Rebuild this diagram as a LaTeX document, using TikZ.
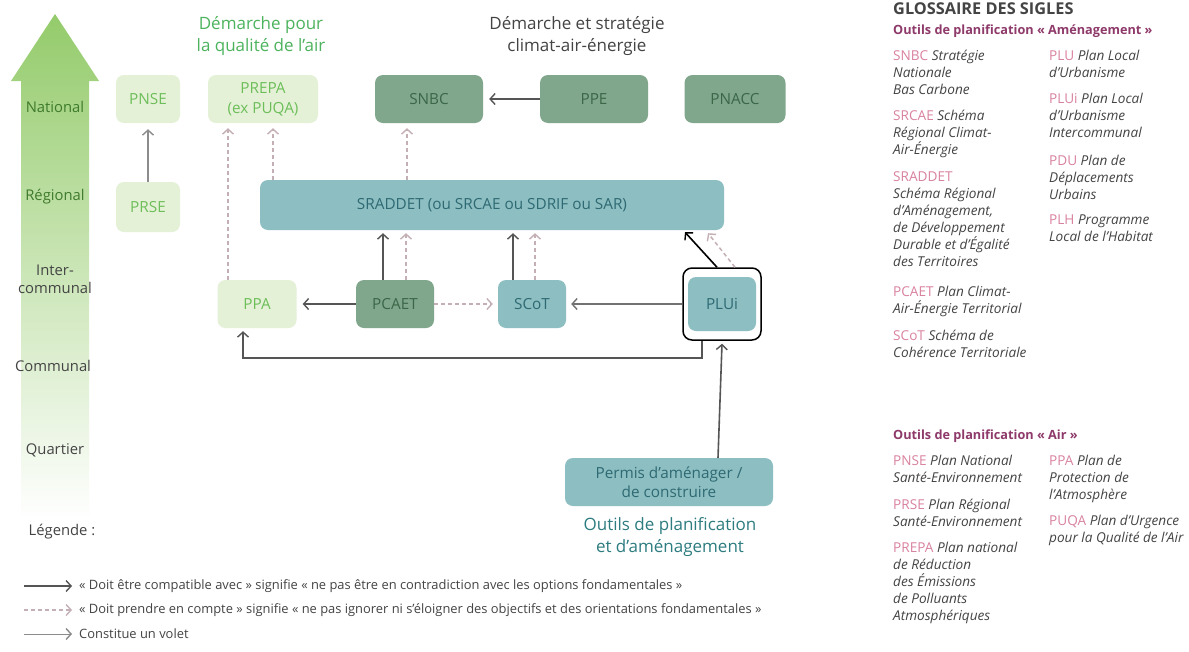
\documentclass[tikz,border=0pt]{standalone}
\usepackage{fontspec}
\setmainfont{Open Sans}
\usetikzlibrary{arrows.meta,calc}
\definecolor{lgfill}{HTML}{E4F1D6}
\definecolor{lgtext}{HTML}{6DBE5A}
\definecolor{dgfill}{HTML}{80A78C}
\definecolor{dgtext}{HTML}{3B6648}
\definecolor{tlfill}{HTML}{8DBEC2}
\definecolor{tltext}{HTML}{2E6A73}
\definecolor{arr}{HTML}{555555}
\definecolor{darr}{HTML}{C4B0B4}
\definecolor{voletc}{HTML}{8C8C8C}
\definecolor{thickc}{HTML}{727272}
\definecolor{acrc}{HTML}{D9829E}
\definecolor{gl}{HTML}{444444}
\definecolor{plum}{HTML}{8E3A6A}
\definecolor{axisgreen}{HTML}{94CB6B}
\definecolor{axistext}{HTML}{3F7A2C}
\definecolor{titlegreen}{HTML}{4DB35E}
\definecolor{titleteal}{HTML}{2D7C80}
\newcommand\acr[1]{{\upshape\color{acrc}#1}}
\tikzset{
  box/.style={rounded corners=8pt, inner sep=2pt, align=center, font=\fontsize{15.3}{20}\selectfont},
  lgbox/.style={box, fill=lgfill, text=lgtext},
  dgbox/.style={box, fill=dgfill, text=dgtext},
  tlbox/.style={box, fill=tlfill, text=tltext},
  tip/.style={-{Straight Barb[length=5pt,width=11pt,line width=1.4pt]}},
  comp/.style={tip, draw=arr, line width=1.6pt},
  prise/.style={tip, draw=darr, line width=1.5pt, dash pattern=on 4pt off 3pt},
  volet/.style={tip, draw=voletc, line width=1.5pt},
  axislab/.style={font=\fontsize{14.8}{18}\selectfont, align=center},
  gloss/.style={anchor=north west, inner sep=0pt, align=left, text=gl, font=\fontsize{13.6}{17}\selectfont\itshape},
  glhead/.style={anchor=west, inner sep=0pt, font=\fontsize{12.7}{14}\selectfont\bfseries, text=plum},
  leg/.style={anchor=west, inner sep=0pt, text=gl, font=\fontsize{12.9}{14}\selectfont},
  title/.style={align=center, font=\fontsize{17}{22}\selectfont}
}
\begin{document}
\begin{tikzpicture}[x=1pt,y=-1pt]
\useasboundingbox[fill=white] (0,0) rectangle (1189,651);
% scale arrow
\shade[top color=axisgreen, bottom color=white] (55,14) -- (99,81) -- (89,81) -- (89,520) -- (21,520) -- (21,81) -- (11,81) -- cycle;
\node[axislab, text=axistext] (lNat) at (55,107) {National};
\node[axislab, text=axistext] (lReg) at (55,197) {Régional};
\node[axislab, text=gl] (lInter) at (55,279) {Inter-\\communal};
\node[axislab, text=gl] (lCom) at (53,366) {Communal};
\node[axislab, text=gl] (lQua) at (55,450) {Quartier};
\node[axislab, text=gl] (lLeg) at (62,532) {Légende :};
% titles
\node[title, text=titlegreen] (tAir) at (261,36) {Démarche pour\\la qualité de l'air};
\node[title, text=gl] (tClim) at (577,36) {Démarche et stratégie\\climat-air-énergie};
\node[title, text=titleteal] (tOut) at (670,537) {Outils de planification\\et d'aménagement};
% boxes
\node[lgbox, minimum width=64pt, minimum height=48pt] (PNSE) at (148,99) {PNSE};
\node[lgbox, minimum width=64pt, minimum height=50pt] (PRSE) at (148,207) {PRSE};
\node[lgbox, minimum width=110pt, minimum height=48pt] (PREPA) at (263,99) {PREPA\\(ex PUQA)};
\node[dgbox, minimum width=108pt, minimum height=48pt] (SNBC) at (429,99) {SNBC};
\node[dgbox, minimum width=108pt, minimum height=48pt] (PPE) at (594,99) {PPE};
\node[dgbox, minimum width=101pt, minimum height=48pt] (PNACC) at (735,99) {PNACC};
\node[tlbox, minimum width=464pt, minimum height=50pt] (SRADDET) at (492,205) {SRADDET (ou SRCAE ou SDRIF ou SAR)};
\node[lgbox, minimum width=79pt, minimum height=48pt] (PPA) at (257,304) {PPA};
\node[dgbox, minimum width=78pt, minimum height=48pt] (PCAET) at (395,304) {PCAET};
\node[tlbox, minimum width=68pt, minimum height=48pt] (SCoT) at (532,304) {SCoT};
\node[tlbox, minimum width=68pt, minimum height=54pt] (PLUi) at (722,304) {PLUi};
\node[draw=black, line width=1.5pt, rounded corners=9pt, minimum width=78pt, minimum height=72pt] (PLUiF) at (722,304) {};
\node[tlbox, minimum width=208pt, minimum height=48pt, font=\fontsize{15.3}{19}\selectfont] (Permis) at (669,482) {Permis d'aménager /\\de construire};
% connectors
\draw[volet] (PRSE.north) -- ([yshift=-6pt]PNSE.south);
\draw[comp] (PPE.west) -- ([xshift=6pt]SNBC.east);
\draw[prise] ([xshift=-22pt]SNBC.south |- SRADDET.north) -- ([xshift=-22pt,yshift=-5pt]SNBC.south);
\draw[prise] ([xshift=10pt]PREPA.south |- SRADDET.north) -- ([xshift=10pt,yshift=-5pt]PREPA.south);
\draw[prise] ([xshift=-35pt]PREPA.south |- PPA.north) -- ([xshift=-35pt,yshift=-5pt]PREPA.south);
\draw[comp] ([xshift=-12pt]PCAET.north) -- ([xshift=-12pt,yshift=-3pt]PCAET.north |- SRADDET.south);
\draw[prise] ([xshift=11pt]PCAET.north) -- ([xshift=11pt,yshift=-3pt]PCAET.north |- SRADDET.south);
\draw[comp] ([xshift=-19pt]SCoT.north) -- ([xshift=-19pt,yshift=-3pt]SCoT.north |- SRADDET.south);
\draw[prise] ([xshift=3pt]SCoT.north) -- ([xshift=3pt,yshift=-3pt]SCoT.north |- SRADDET.south);
\coordinate (sA) at ([xshift=-5pt]PLUiF.north);
\coordinate (sB) at ([xshift=13pt]PLUiF.north);
\draw[comp, draw=black] (sA) -- ([xshift=193pt,yshift=-2pt]SRADDET.south);
\draw[prise] (sB) -- ([xshift=216pt,yshift=-3pt]SRADDET.south);
\draw[comp] (PCAET.west) -- ([xshift=6pt]PPA.east);
\draw[prise] (PCAET.east) -- ([xshift=-5pt]SCoT.west);
\draw[tip, draw=thickc, line width=2.8pt] (PLUiF.west) -- ([xshift=5pt]SCoT.east);
\coordinate (cornerR) at ([xshift=-20pt]PLUiF.south |- 0,358);
\draw[comp, line width=1.4pt] ([xshift=-20pt]PLUiF.south) -- (cornerR) -| ([xshift=-14pt,yshift=-3pt]PPA.south);
\draw[comp] ([xshift=-4pt]Permis.north -| PLUiF.south) -- ([yshift=-3pt]PLUiF.south);
% legend
\coordinate (l1a) at (24,586); \coordinate (l1b) at (72,586);
\coordinate (l2a) at (24,610); \coordinate (l2b) at (72,610);
\coordinate (l3a) at (24,634); \coordinate (l3b) at (72,634);
\draw[comp] (l1a) -- (l1b);
\draw[prise] (l2a) -- (l2b);
\draw[volet, line width=1pt] (l3a) -- (l3b);
\node[leg] (t1) at (79,586) {« Doit être compatible avec » signifie « ne pas être en contradiction avec les options fondamentales »};
\node[leg] (t2) at (79,610) {« Doit prendre en compte » signifie « ne pas ignorer ni s'éloigner des objectifs et des orientations fondamentales »};
\node[leg] (t3) at (79,634) {Constitue un volet};
% glossary
\node[anchor=west, inner sep=0pt, font=\fontsize{16.3}{18}\selectfont\bfseries, text=gl] (gT) at (893,9) {GLOSSAIRE DES SIGLES};
\node[glhead] (gH1) at (893,31) {Outils de planification « Aménagement »};
\node[gloss] (gSNBC) at (893,50) {\acr{SNBC} Stratégie\\Nationale\\Bas Carbone};
\node[gloss] (gSRCAE) at (893,110) {\acr{SRCAE} Schéma\\Régional Climat-\\Air-Énergie};
\node[gloss] (gSRADDET) at (893,171) {\acr{SRADDET}\\Schéma Régional\\d'Aménagement,\\de Développement\\Durable et d'Égalité\\des Territoires};
\node[gloss] (gPCAET) at (893,286) {\acr{PCAET} Plan Climat-\\Air-Énergie Territorial};
\node[gloss] (gSCoT) at (893,330) {\acr{SCoT} Schéma de\\Cohérence Territoriale};
\node[gloss] (gPLU) at (1049,50) {\acr{PLU} Plan Local\\d'Urbanisme};
\node[gloss] (gPLUi) at (1049,93) {\acr{PLUi} Plan Local\\d'Urbanisme\\Intercommunal};
\node[gloss] (gPDU) at (1049,155) {\acr{PDU} Plan de\\Déplacements\\Urbains};
\node[gloss] (gPLH) at (1049,215) {\acr{PLH} Programme\\Local de l'Habitat};
\node[glhead] (gH2) at (893,436) {Outils de planification « Air »};
\node[gloss] (gPNSE) at (893,455) {\acr{PNSE} Plan National\\Santé-Environnement};
\node[gloss] (gPRSE) at (893,499) {\acr{PRSE} Plan Régional\\Santé-Environnement};
\node[gloss] (gPREPA) at (893,542) {\acr{PREPA} Plan national\\de Réduction\\des Émissions\\de Polluants\\Atmosphériques};
\node[gloss] (gPPA) at (1049,455) {\acr{PPA} Plan de\\Protection de\\l'Atmosphère};
\node[gloss] (gPUQA) at (1049,515) {\acr{PUQA} Plan d'Urgence\\pour la Qualité de l'Air};
\end{tikzpicture}
\end{document}
